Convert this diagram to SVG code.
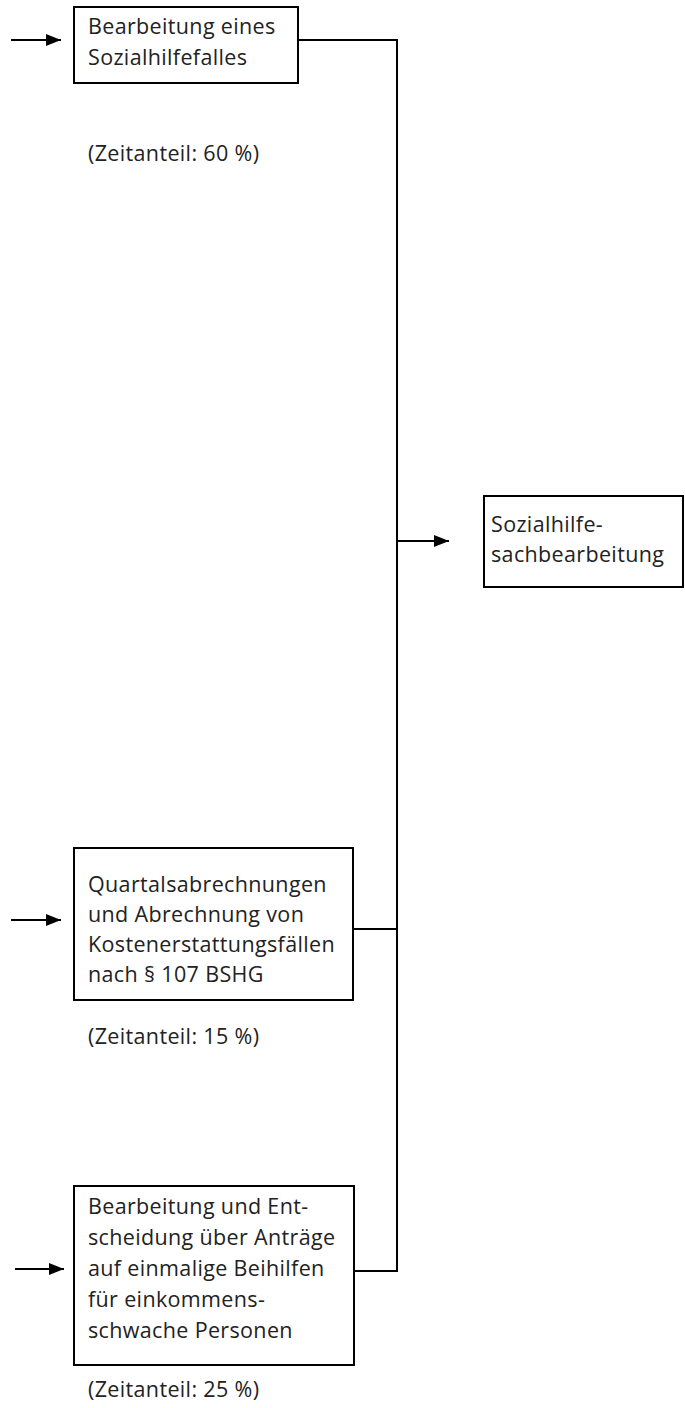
<svg xmlns="http://www.w3.org/2000/svg" width="685" height="1408" viewBox="0 0 685 1408">
<style>
.box{fill:#fff;stroke:#000;stroke-width:2}
.t{font-family:"Open Sans",Lato,sans-serif;font-size:21.5px;letter-spacing:0.35px;fill:#222}
.c{fill:none;stroke:#000;stroke-width:2}
</style>
<defs>
<marker id="ah" markerWidth="15" markerHeight="12" refX="15" refY="6" orient="auto" markerUnits="userSpaceOnUse">
<path d="M0,0 L15,6 L0,12 Z" fill="#000"/>
</marker>
</defs>
<rect width="685" height="1408" fill="#fff"/>
<g id="connectors">
<line class="c" x1="11" y1="40" x2="61" y2="40" marker-end="url(#ah)"/>
<line class="c" x1="11" y1="920" x2="61" y2="920" marker-end="url(#ah)"/>
<line class="c" x1="15" y1="1269" x2="64" y2="1269" marker-end="url(#ah)"/>
<polyline class="c" points="298,40 397,40 397,1271 354,1271"/>
<line class="c" x1="353" y1="929" x2="397" y2="929"/>
<line class="c" x1="397" y1="541" x2="449" y2="541" marker-end="url(#ah)"/>
</g>
<g id="node1">
<rect class="box" x="74" y="7" width="224" height="76"/>
<text class="t" x="88" y="34">Bearbeitung eines</text>
<text class="t" x="88" y="65">Sozialhilfefalles</text>
</g>
<text id="label1" class="t" x="88" y="161">(Zeitanteil: 60 %)</text>
<g id="node_target">
<rect class="box" x="484" y="496" width="199" height="91"/>
<text class="t" x="491" y="532">Sozialhilfe-</text>
<text class="t" x="491" y="562">sachbearbeitung</text>
</g>
<g id="node2">
<rect class="box" x="74" y="848" width="279" height="152"/>
<text class="t" x="88" y="892">Quartalsabrechnungen</text>
<text class="t" x="88" y="922">und Abrechnung von</text>
<text class="t" x="88" y="952">Kostenerstattungsfällen</text>
<text class="t" x="88" y="982">nach § 107 BSHG</text>
</g>
<text id="label2" class="t" x="88" y="1044">(Zeitanteil: 15 %)</text>
<g id="node3">
<rect class="box" x="74" y="1186" width="280" height="179"/>
<text class="t" x="88" y="1214">Bearbeitung und Ent-</text>
<text class="t" x="88" y="1245">scheidung über Anträge</text>
<text class="t" x="88" y="1276">auf einmalige Beihilfen</text>
<text class="t" x="88" y="1307">für einkommens-</text>
<text class="t" x="88" y="1338">schwache Personen</text>
</g>
<text id="label3" class="t" x="88" y="1397">(Zeitanteil: 25 %)</text>
</svg>
